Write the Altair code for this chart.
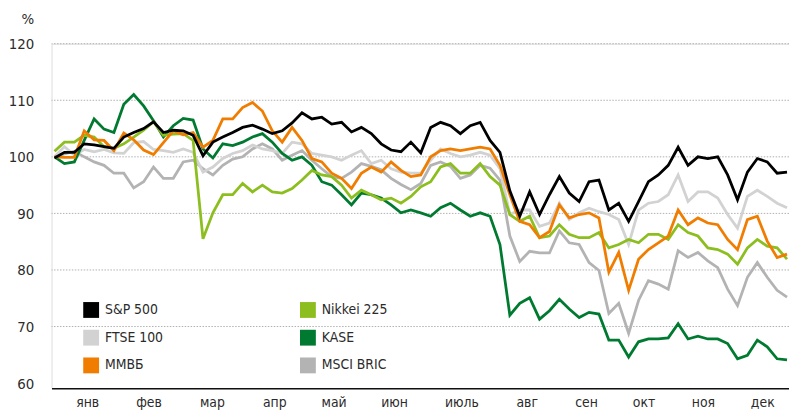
import altair as alt
import pandas as pd

FONT = "DejaVu Sans Condensed, Liberation Sans Narrow, sans-serif"
TEXT = "#2b2b2b"

series_names = ["S&P 500", "FTSE 100", "ММВБ", "Nikkei 225", "KASE", "MSCI BRIC"]
series_colors = ["#000000", "#d2d2d2", "#f07d00", "#8dbe1f", "#007a30", "#b3b3b3"]

sp500 = [99.8, 100.8, 100.8, 102.3, 102.1, 101.8, 101.5, 103.5, 104.3, 105.0, 106.2, 104.3, 104.7,
         104.6, 103.8, 100.2, 102.6, 103.5, 104.3, 105.2, 105.6, 104.9, 104.1, 104.6, 106.0,
         107.8, 106.7, 107.0, 105.8, 106.1, 104.4, 105.2, 104.1, 102.3, 101.2, 100.9, 102.6, 100.7,
         105.2, 106.1, 105.5, 104.1, 105.5, 106.1, 102.9, 100.8, 94.0, 89.5, 93.8, 89.8,
         93.3, 96.5, 93.6, 92.1, 95.6, 95.9, 90.6, 91.8, 88.6, 92.1, 95.6, 96.8,
         98.5, 101.7, 98.5, 100.0, 99.7, 100.0, 96.8, 92.4, 97.3, 99.7, 99.1, 97.1, 97.3]

ftse = [100.0, 101.8, 100.3, 101.3, 100.9, 101.3, 100.7, 100.6, 102.5, 102.7, 101.3, 101.1, 100.8,
        101.4, 100.8, 97.3, 98.2, 99.7, 100.6, 101.1, 102.1, 101.4, 101.1, 100.6, 102.6,
        102.3, 100.6, 100.3, 100.0, 99.4, 100.3, 101.1, 98.8, 99.4, 97.9, 97.3, 97.1, 97.1,
        99.4, 101.4, 100.6, 100.0, 100.3, 100.8, 100.3, 97.9, 89.8, 90.6, 90.6, 87.7,
        88.3, 91.8, 88.9, 90.1, 90.9, 90.3, 89.8, 88.9, 84.5, 90.6, 91.8, 92.1,
        93.3, 96.8, 92.1, 93.8, 93.8, 92.7, 89.8, 87.4, 93.0, 94.1, 93.0, 91.8, 91.0]

micex = [100.0, 99.9, 99.9, 104.6, 103.0, 102.9, 101.1, 104.2, 103.0, 101.2, 100.4, 102.5, 104.6,
         103.9, 104.3, 101.7, 102.9, 106.7, 106.7, 108.7, 109.6, 108.1, 104.6, 102.6, 105.2,
         102.9, 99.7, 99.1, 97.1, 96.2, 94.4, 97.1, 98.2, 97.3, 99.1, 97.6, 96.5, 96.8,
         100.0, 101.1, 101.4, 101.1, 101.4, 101.7, 101.4, 98.5, 93.3, 88.6, 88.0, 85.7,
         86.8, 91.5, 89.2, 89.8, 90.1, 89.2, 79.6, 83.1, 76.4, 81.9, 83.6, 84.8,
         86.0, 90.6, 88.0, 89.2, 88.3, 88.0, 85.4, 83.6, 88.9, 89.5, 85.1, 82.2, 82.8]

nikkei = [101.0, 102.6, 102.6, 103.8, 103.5, 101.8, 101.5, 102.3, 103.5, 104.7, 106.2, 103.8, 104.0,
          104.1, 102.9, 85.5, 90.1, 93.3, 93.3, 95.3, 93.8, 95.0, 93.8, 93.6, 94.4,
          95.9, 97.6, 96.8, 96.5, 95.0, 92.7, 94.1, 93.3, 92.4, 92.7, 91.8, 93.0, 94.7,
          95.6, 98.2, 98.8, 97.1, 97.1, 98.8, 96.5, 95.0, 89.8, 88.6, 89.5, 85.7,
          86.0, 88.0, 86.3, 85.7, 85.7, 86.6, 83.9, 84.5, 85.4, 84.8, 86.3, 86.3,
          85.4, 88.0, 86.6, 86.0, 83.9, 83.6, 82.8, 81.0, 83.9, 85.4, 84.2, 83.9, 81.9]

kase = [100.0, 98.8, 99.1, 102.9, 106.7, 104.9, 104.3, 109.3, 111.0, 109.0, 106.4, 103.5, 105.5,
        106.8, 106.5, 101.4, 99.8, 102.3, 102.0, 102.6, 103.5, 104.1, 102.6, 100.6, 99.4,
        100.0, 98.5, 95.6, 95.0, 93.3, 91.5, 93.6, 93.3, 92.7, 91.5, 90.1, 90.6, 90.1,
        89.5, 91.0, 91.8, 90.6, 89.5, 90.1, 89.5, 84.5, 72.0, 74.1, 75.1, 71.3,
        72.8, 74.8, 73.1, 71.6, 72.5, 72.2, 67.6, 67.6, 64.6, 67.3, 67.8, 67.8,
        68.0, 70.5, 67.8, 68.3, 67.8, 67.8, 67.0, 64.3, 64.9, 67.6, 66.4, 64.3, 64.1]

msci = [100.0, 100.5, 101.0, 100.0, 99.1, 98.5, 97.1, 97.1, 94.5, 95.6, 98.2, 96.2, 96.2,
        99.1, 99.4, 97.9, 96.8, 98.5, 99.6, 100.0, 101.4, 102.3, 101.4, 99.4, 100.3,
        101.1, 99.4, 97.9, 96.5, 96.2, 97.3, 98.8, 98.3, 97.7, 96.2, 95.1, 94.2, 95.3,
        98.5, 99.1, 98.3, 96.2, 96.8, 98.5, 98.0, 95.9, 86.0, 81.5, 83.3, 83.0,
        83.0, 86.9, 84.8, 84.5, 81.3, 79.9, 72.3, 74.1, 68.8, 74.6, 78.1, 77.5,
        76.6, 83.4, 82.2, 83.1, 81.6, 80.4, 76.6, 73.7, 78.7, 81.3, 78.7, 76.4, 75.2]

months = ["янв", "фев", "мар", "апр", "май", "июн", "июль", "авг", "сен", "окт", "ноя", "дек"]
month_ticks = [3.3, 9.5, 15.9, 22.2, 28.2, 34.3, 41.1, 47.7, 53.7, 59.5, 65.5, 71.5]
y_ticks = [60, 70, 80, 90, 100, 110, 120]
grid_values = [70, 80, 90, 100, 110, 120]

draw_order = ["MSCI BRIC", "FTSE 100", "KASE", "Nikkei 225", "ММВБ", "S&P 500"]

all_values = [sp500, ftse, micex, nikkei, kase, msci]
rows = []
for name, vals in zip(series_names, all_values):
    for i, v in enumerate(vals):
        rows.append({"t": i, "value": v, "series": name})
df = pd.DataFrame(rows)

color_scale = alt.Scale(domain=series_names, range=series_colors)
x_scale = alt.Scale(domain=[-0.3, 74.2], nice=False, zero=False)
y_scale = alt.Scale(domain=[59.1, 120], nice=False, zero=False)

label_expr = ""
for pos, m in zip(month_ticks, months):
    label_expr += f"abs(datum.value - {pos}) < 0.01 ? '{m}' : "
label_expr += "''"

x_axis = alt.Axis(values=month_ticks, labelExpr=label_expr, ticks=False, grid=False,
                  domainColor="#111111", domainWidth=1.6, labelFont=FONT, labelFontSize=14,
                  labelColor=TEXT, labelPadding=8, title=None)
y_axis = alt.Axis(values=y_ticks, ticks=False, grid=False, domain=False, labelFont=FONT,
                  labelFontSize=15, labelColor=TEXT, labelPadding=18, titleAngle=0,
                  titleX=-18, titleY=-20, titleAlign="right", titleBaseline="alphabetic",
                  titleFont=FONT, titleFontSize=15, titleFontWeight="normal", titleColor=TEXT)

legend = alt.Legend(orient="none", legendX=32, legendY=261, columns=2, columnPadding=126,
                    rowPadding=-17, symbolType="square", symbolSize=64, symbolStrokeWidth=8,
                    labelFont=FONT, labelFontSize=14, labelColor=TEXT, labelOffset=6,
                    title=None)

grid = alt.Chart(pd.DataFrame({"g": grid_values})).mark_rule(
    color="#b0b0b0", strokeWidth=1, strokeDash=[1.5, 1.5]
).encode(y=alt.Y("g:Q", scale=y_scale, axis=y_axis, title="%"))

layers = [grid]
for name in draw_order:
    layer = alt.Chart(df).transform_filter(alt.datum.series == name).mark_line(
        strokeWidth=2.8
    ).encode(
        x=alt.X("t:Q", scale=x_scale, axis=x_axis),
        y=alt.Y("value:Q", scale=y_scale, axis=y_axis, title="%"),
        color=alt.Color("series:N", scale=color_scale, legend=legend),
    )
    layers.append(layer)

chart = alt.layer(*layers).properties(
    width=745, height=348,
    autosize=alt.AutoSizeParams(type="none"),
    padding={"left": 44, "top": 34, "right": 0, "bottom": 22},
).configure_view(stroke=None).configure(background="white")

chart.save("out.html", embed_options={"renderer": "svg", "actions": False})
